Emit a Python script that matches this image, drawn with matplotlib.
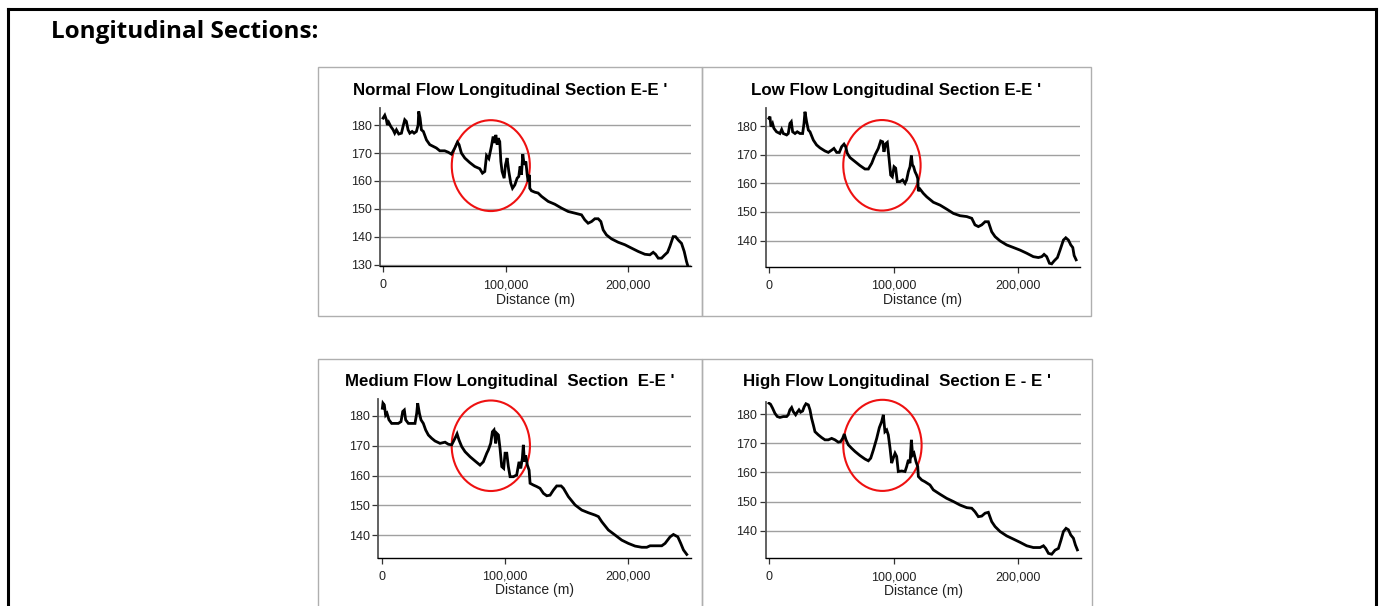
import matplotlib
matplotlib.use("Agg")
import matplotlib.pyplot as plt
from matplotlib.patches import Ellipse, Rectangle
from matplotlib.lines import Line2D

W, H = 1381, 606
plt.rcParams['font.family'] = ['Liberation Sans', 'DejaVu Sans']

# ---------------- data (distance in m, elevation in m) ----------------
normal_x = [0, 1400, 2700, 3500, 4600, 6300, 8200, 9500, 10900, 12800, 15000, 16300, 17700, 19000,
            20400, 21800, 23700, 25300, 27200, 28600, 29100, 30200, 31300, 32900, 35400, 38100,
            40800, 43500, 46300, 50300, 53100, 55800, 58500, 60700, 62000, 63900, 66700, 70700,
            74800, 78900, 81100, 83000, 84400, 86300, 88400, 89800, 91200, 92000, 93100, 93900,
            95200, 96100, 97100, 98800, 99900, 101200, 102600, 104200, 105600, 107500, 109400,
            110700, 111800, 112900, 114000, 115100, 116500, 117600, 118400, 119500, 119700,
            121100, 123800, 126500, 129300, 134700, 140100, 145600, 151000, 156500, 161900,
            164600, 167300, 170100, 172800, 175500, 177700, 179600, 182300, 186400, 191800,
            197300, 202700, 208200, 213600, 217700, 220400, 222300, 224500, 227200, 229900,
            232100, 234000, 236700, 238600, 240800, 243500, 245700, 247600, 248400]
normal_y = [182.5, 183.5, 181.9, 180.0, 181.0, 179.5, 178.3, 177.1, 178.3, 176.8, 177.1, 179.5,
            181.9, 181.3, 178.3, 177.1, 177.7, 177.1, 177.7, 180.0, 184.9, 182.5, 178.3, 177.7,
            174.7, 173.0, 172.4, 171.8, 170.8, 170.8, 170.3, 169.6, 171.8, 173.9, 173.0, 170.0,
            168.2, 166.6, 165.2, 164.4, 162.8, 163.4, 169.1, 168.0, 172.4, 175.9, 173.6, 176.5,
            173.0, 175.3, 174.1, 167.0, 163.4, 161.0, 165.8, 168.2, 163.4, 159.2, 157.4, 158.6,
            161.0, 161.6, 165.2, 162.2, 169.6, 165.8, 167.0, 162.2, 159.8, 162.2, 157.4, 156.5,
            156.0, 155.7, 154.5, 152.7, 151.7, 150.3, 149.1, 148.5, 147.9, 146.1, 144.9, 145.5,
            146.5, 146.5, 145.5, 142.5, 140.7, 139.3, 138.1, 137.2, 136.0, 134.8, 133.8, 133.6,
            134.5, 133.8, 132.4, 132.4, 133.6, 134.5, 136.6, 140.1, 140.1, 138.9, 137.7, 134.8,
            131.2, 130.0]

low_x = [0, 800, 1600, 2900, 4000, 6100, 8800, 10200, 11500, 14200, 15500, 16800, 17900, 19000,
         20900, 22700, 24900, 27000, 28100, 28900, 30200, 31600, 32900, 35600, 38200, 40900, 44900,
         47600, 50300, 52100, 54300, 56400, 58300, 60200, 61500, 62800, 65000, 69000, 73000, 77000,
         79700, 82400, 85000, 87700, 89600, 91200, 92200, 93600, 94900, 96300, 97600, 98900, 100300,
         101600, 102900, 105100, 107200, 109100, 110400, 111800, 113100, 114200, 115000, 116000,
         117100, 118400, 119300, 119800, 121100, 123800, 126500, 131800, 137200, 142500, 147900,
         153200, 158600, 162600, 165200, 167900, 170600, 173300, 175900, 178600, 181300, 185300,
         190600, 196000, 201300, 206700, 212000, 216000, 218700, 220600, 222700, 224900, 226700,
         228600, 231300, 233400, 236100, 238000, 240100, 242000, 243600, 244700, 246300]
low_y = [182.7, 183.3, 179.8, 180.9, 179.2, 178.0, 177.4, 178.8, 177.4, 176.9, 177.4, 180.9, 181.5,
         178.0, 177.4, 178.0, 177.4, 177.4, 180.9, 185.0, 181.5, 178.6, 178.0, 175.1, 173.4, 172.4,
         171.3, 170.8, 171.6, 172.2, 170.8, 170.8, 172.8, 173.7, 172.8, 170.5, 169.0, 167.6, 166.2,
         165.0, 165.0, 167.0, 169.9, 172.2, 174.8, 174.5, 171.0, 173.8, 174.3, 168.7, 162.9, 162.3,
         165.8, 165.3, 160.6, 160.6, 161.2, 160.0, 161.2, 164.1, 165.8, 169.7, 166.5, 165.8, 164.1,
         162.9, 161.7, 157.3, 158.0, 156.5, 155.3, 153.4, 152.4, 151.0, 149.5, 148.7, 148.4, 147.8,
         145.5, 144.9, 145.5, 146.6, 146.6, 143.1, 141.4, 139.9, 138.5, 137.6, 136.7, 135.6, 134.4,
         134.1, 134.4, 135.2, 134.4, 132.1, 131.9, 132.9, 134.1, 136.7, 140.2, 141.0, 140.2, 138.5,
         137.6, 134.8, 133.3]

medium_x = [0, 500, 1600, 2700, 3800, 5400, 7600, 10300, 13000, 15200, 16600, 17900, 19000, 21200,
            23900, 26600, 28000, 28800, 30200, 31500, 33400, 35300, 37500, 40200, 42900, 47000,
            51100, 53800, 56500, 59200, 60900, 62500, 64700, 67400, 71500, 75500, 79600, 82300,
            85100, 86400, 88300, 89700, 91000, 92400, 93200, 94600, 95900, 97300, 98900, 100000,
            101400, 102700, 104100, 106800, 109500, 111400, 112800, 114100, 114900, 115800, 116800,
            118200, 119600, 120400, 123100, 125800, 128500, 131300, 134000, 136700, 139400, 142100,
            145700, 147600, 151600, 157100, 162500, 167900, 173400, 176100, 178800, 184200, 189700,
            195100, 200500, 206000, 211400, 215500, 218200, 222300, 227700, 230400, 234500, 237200,
            240800, 243200, 245400, 248100]
medium_y = [182.6, 184.3, 183.7, 180.3, 180.9, 178.7, 177.5, 177.5, 177.5, 178.1, 181.5, 182.0,
            178.7, 177.5, 177.5, 177.5, 180.9, 184.3, 180.9, 178.7, 177.5, 175.3, 173.6, 172.5,
            171.6, 170.8, 171.2, 170.5, 170.3, 172.5, 174.0, 171.9, 169.7, 168.0, 166.3, 164.9,
            163.5, 164.6, 167.5, 168.6, 170.8, 174.7, 175.3, 170.8, 174.2, 173.6, 169.1, 163.0,
            162.4, 167.5, 167.5, 163.0, 159.6, 159.6, 160.2, 164.6, 162.4, 165.8, 170.3, 164.6,
            166.8, 163.5, 161.8, 157.4, 156.8, 156.3, 155.7, 154.0, 153.2, 153.4, 155.1, 156.5,
            156.5, 155.7, 152.9, 150.1, 148.4, 147.5, 146.7, 146.2, 144.5, 141.7, 140.0, 138.3,
            137.2, 136.3, 135.9, 135.9, 136.4, 136.4, 136.4, 137.2, 139.4, 140.2, 139.4, 137.2,
            135.0, 133.5]

high_x = [0, 1300, 2900, 4800, 6700, 8800, 11500, 14200, 15500, 16800, 18200, 19500, 21400, 22700,
          24100, 25400, 27000, 28300, 29700, 31600, 32900, 34200, 35600, 36900, 39600, 42200, 44900,
          47600, 50300, 52900, 55600, 57500, 59100, 60400, 61800, 63600, 66300, 69000, 73000, 77000,
          79700, 81600, 83700, 86400, 88500, 90400, 91700, 93000, 94400, 95700, 97100, 98400, 99700,
          101100, 102400, 103700, 106400, 109100, 110400, 111800, 113100, 114200, 115200, 116300,
          117900, 119300, 119800, 122500, 125100, 129100, 131800, 137200, 142500, 147900, 153200,
          158600, 162600, 165200, 167900, 170600, 173300, 175900, 178600, 181300, 185300, 190600,
          196000, 201300, 206700, 212000, 217400, 220100, 221900, 224100, 226700, 229400, 232100,
          234200, 236100, 238200, 240100, 242000, 244100, 245700, 247300]
high_y = [183.8, 183.4, 182.1, 180.3, 179.2, 178.9, 179.2, 179.2, 179.8, 181.5, 182.3, 180.9, 179.8,
          180.7, 181.5, 180.7, 181.1, 182.6, 183.6, 183.2, 181.5, 178.6, 176.3, 174.0, 172.9, 172.0,
          171.2, 171.2, 171.7, 171.2, 170.4, 170.6, 171.7, 173.2, 171.2, 169.5, 168.3, 167.2, 165.8,
          164.6, 164.0, 164.9, 167.7, 171.7, 175.4, 177.5, 179.8, 174.0, 174.6, 172.9, 168.3, 163.2,
          164.9, 166.6, 165.5, 160.3, 160.5, 160.3, 162.0, 164.3, 163.2, 171.2, 166.0, 166.6, 163.7,
          162.0, 158.6, 157.4, 156.8, 155.7, 154.0, 152.5, 151.1, 150.0, 148.8, 147.9, 147.7, 146.5,
          144.8, 145.0, 146.0, 146.3, 143.1, 141.4, 139.7, 138.2, 137.1, 136.0, 134.8, 134.2, 134.2,
          134.8, 133.9, 132.2, 131.9, 133.3, 133.9, 136.8, 139.7, 140.8, 140.3, 138.5, 137.4, 135.1,
          133.4]

titles = ["Normal Flow Longitudinal Section E-E '",
          "Low Flow Longitudinal Section E-E '",
          "Medium Flow Longitudinal  Section  E-E '",
          "High Flow Longitudinal  Section E - E '"]
xlabel = "Distance (m)"
x_ticks = [0, 100000, 200000]
x_ticklabels = ["0", "100,000", "200,000"]
yticks_list = [[130, 140, 150, 160, 170, 180],
               [140, 150, 160, 170, 180],
               [140, 150, 160, 170, 180],
               [140, 150, 160, 170, 180]]
# highlighted zone (ellipse): centre x, centre y, width, height
ellipses = [(87900, 165.5, 63700, 32.5),
            (90600, 166.3, 62000, 31.6),
            (88400, 170.0, 63800, 30.4),
            (91000, 169.3, 62800, 31.3)]

series = [(normal_x, normal_y), (low_x, low_y), (medium_x, medium_y), (high_x, high_y)]

# ---------------- layout (pixels) ----------------
axes_px = [(380, 108.3, 690.7, 266.0),
           (765.7, 108.3, 1080.0, 266.7),
           (378.3, 399.3, 690.7, 557.7),
           (765.7, 401.7, 1081.0, 558.3)]
xlims = [(-2500, 251000), (-2600, 249400), (-3300, 251300), (-2600, 250200)]
ylims = [(129.6, 186.0), (130.9, 186.2), (132.4, 185.6), (130.5, 184.3)]
panels_px = [(318, 67, 702, 316), (702, 67, 1091, 316),
             (318, 359, 702, 620), (702, 359, 1092, 620)]
title_y = [90, 90, 381.7, 381.7]
xlabel_y = [300, 300, 590, 591]

fig = plt.figure(figsize=(W / 100, H / 100), dpi=100)
fig.patch.set_facecolor('white')

def fx(px):
    return px / W

def fy(py):
    return 1 - py / H

# page border
for (x0, y0, x1, y1) in [(8, 8.5, 1376, 8.5), (8, 8.5, 8, 620), (1376, 8.5, 1376, 620)]:
    fig.add_artist(Line2D([fx(x0), fx(x1)], [fy(y0), fy(y1)], color='black', lw=2.2,
                          transform=fig.transFigure))

fig.text(fx(51), fy(31.5), "Longitudinal Sections:", fontsize=17.5, fontweight='bold',
         family=['Open Sans', 'DejaVu Sans'], ha='left', va='center', color='black')

# panel boxes
for (x0, y0, x1, y1) in panels_px:
    fig.add_artist(Rectangle((fx(x0), fy(y1)), fx(x1) - fx(x0), fy(y0) - fy(y1),
                             transform=fig.transFigure, fill=False, ec='#AFAFAF', lw=1.0))

for i in range(4):
    x0, y0, x1, y1 = axes_px[i]
    ax = fig.add_axes([fx(x0), fy(y1), fx(x1) - fx(x0), fy(y0) - fy(y1)])
    xs, ys = series[i]
    ax.set_xlim(*xlims[i])
    ax.set_ylim(*ylims[i])
    ax.set_yticks(yticks_list[i])
    ax.set_xticks(x_ticks)
    ax.set_xticklabels(x_ticklabels)
    ax.yaxis.grid(True, color='#A0A0A0', lw=1.0)
    ax.set_axisbelow(True)
    for s in ['top', 'right']:
        ax.spines[s].set_visible(False)
    ax.spines['left'].set_color('#555555')
    ax.spines['left'].set_linewidth(1.3)
    ax.spines['bottom'].set_color('black')
    ax.spines['bottom'].set_linewidth(1.0)
    ax.tick_params(axis='both', labelsize=9, labelcolor='#222222', color='#333333',
                   length=4, width=0.9, pad=2)
    ax.tick_params(axis='x', pad=5.5)
    ax.plot(xs, ys, color='black', lw=2.0, solid_joinstyle='miter')
    cx, cy, ew, eh = ellipses[i]
    ax.add_patch(Ellipse((cx, cy), ew, eh, fill=False, ec='#EE1111', lw=1.5, clip_on=False))
    px0, py0, px1, py1 = panels_px[i]
    fig.text(fx((px0 + px1) / 2), fy(title_y[i]), titles[i], fontsize=12.2, fontweight='bold',
             ha='center', va='center', color='black')
    fig.text(fx((x0 + x1) / 2), fy(xlabel_y[i]), xlabel, fontsize=10,
             ha='center', va='center', color='#222222')

fig.savefig("out.png", dpi=100, facecolor='white')
